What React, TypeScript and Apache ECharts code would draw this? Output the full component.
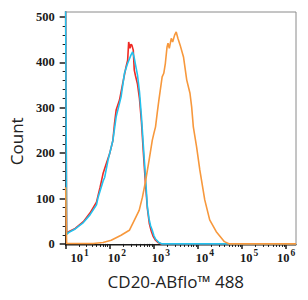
import { useEffect, useRef } from 'react';
import * as echarts from 'echarts';

// x positions are log10(channel) exponents, y values are event counts
const redExp = [1.0, 1.022, 1.067, 1.217, 1.402, 1.551, 1.699, 1.781, 1.848, 1.922, 1.998, 2.071, 2.109, 2.145, 2.221, 2.295, 2.369, 2.406, 2.429, 2.458, 2.48, 2.502, 2.533, 2.556, 2.585, 2.629, 2.674, 2.719, 2.763, 2.808, 2.853, 2.897, 2.942, 2.987, 3.031, 3.098, 3.165, 6.223];
const redCount = [520, 23, 27, 34, 49, 68, 92, 125, 155, 177, 199, 228, 266, 295, 317, 354, 390, 405, 445, 431, 440, 438, 427, 383, 370, 352, 320, 268, 200, 135, 78, 45, 28, 16, 9, 3, 0, 0];

const cyanExp = [1.0, 1.022, 1.067, 1.217, 1.402, 1.551, 1.699, 1.737, 1.848, 1.886, 1.96, 2.071, 2.145, 2.257, 2.333, 2.406, 2.48, 2.518, 2.551, 2.578, 2.629, 2.674, 2.719, 2.763, 2.815, 2.853, 2.891, 2.926, 2.964, 3.002, 3.038, 3.114, 3.188, 6.223];
const cyanCount = [520, 21, 25, 33, 47, 64, 86, 103, 138, 147, 184, 228, 280, 324, 376, 398, 416, 423, 412, 398, 372, 335, 280, 215, 140, 82, 55, 40, 30, 18, 11, 3, 0, 0];

const orangeExp = [1.0, 1.022, 1.625, 1.848, 2.033, 2.257, 2.444, 2.556, 2.667, 2.741, 2.815, 2.891, 2.964, 3.002, 3.038, 3.076, 3.114, 3.188, 3.225, 3.261, 3.299, 3.321, 3.35, 3.395, 3.426, 3.471, 3.507, 3.545, 3.596, 3.672, 3.746, 3.819, 3.857, 3.895, 3.969, 4.042, 4.154, 4.266, 4.415, 4.6, 4.712, 6.223];
const orangeCount = [125, 1, 1, 3, 8, 19, 30, 52, 74, 103, 140, 184, 228, 244, 258, 288, 317, 368, 376, 398, 434, 442, 431, 453, 445, 460, 467, 453, 438, 412, 361, 332, 302, 258, 214, 163, 97, 53, 27, 5, 0, 0];

const xDecades = [10, 100, 1000, 10000, 100000, 1000000];
const xLabelShift = [28, 14, 14, 14, 14, 0];
const xMinorSteps = [2, 3, 4, 5, 6, 7, 8, 9];
const yMajor = [0, 100, 200, 300, 400, 500];
const yMinor = [20, 40, 60, 80, 120, 140, 160, 180, 220, 240, 260, 280, 320, 340, 360, 380, 420, 440, 460, 480];

const X_MIN = 10;
const X_MAX_EXP = 6.223;
const Y_MIN = -3.5;
const Y_MAX = 511;

export default function App() {
  const ref = useRef<HTMLDivElement>(null);
  useEffect(() => {
    const chart = echarts.init(ref.current!, null, { renderer: 'svg' });
    const toXY = (exps: number[], counts: number[]) => exps.map((e, i) => [Math.pow(10, e), counts[i]]);
    const xMax = Math.pow(10, X_MAX_EXP);
    const xMinor: number[] = [];
    xDecades.forEach((d) => xMinorSteps.forEach((s) => { if (d * s < xMax) xMinor.push(d * s); }));
    const serif = '"Liberation Serif", "Times New Roman", serif';
    const sans = '"Open Sans", "Noto Sans", sans-serif';
    const ink = '#1a1a1a';
    chart.setOption({
      animation: false,
      backgroundColor: '#ffffff',
      grid: { left: 62, right: 12, top: 12, bottom: 54.5, show: true, borderColor: '#8a8a8a', borderWidth: 1, backgroundColor: 'transparent' },
      xAxis: [
        {
          type: 'log', logBase: 10, min: X_MIN, max: xMax, position: 'bottom',
          name: 'CD20-ABflo™ 488', nameLocation: 'middle', nameGap: 27,
          nameTextStyle: { fontFamily: sans, fontSize: 17, color: '#222', padding: [0, 10, 0, 0] },
          axisLine: { show: true, lineStyle: { color: ink, width: 1 } },
          axisTick: { show: true, inside: false, length: 5, customValues: xDecades, lineStyle: { color: ink, width: 1.5 } },
          axisLabel: {
            customValues: xDecades, margin: 5,
            formatter: (v: number) => {
              const n = Math.round(Math.log10(v));
              const i = xDecades.indexOf(Math.pow(10, n));
              const sp = xLabelShift[i] === 28 ? '{sp2| }' : xLabelShift[i] === 14 ? '{sp1| }' : '';
              return sp + '{b|10}{s|' + n + '}';
            },
            rich: {
              sp1: { width: 14 },
              sp2: { width: 28 },
              b: { fontFamily: serif, fontSize: 12.5, fontWeight: 'bold', color: ink, verticalAlign: 'bottom', lineHeight: 14 },
              s: { fontFamily: serif, fontSize: 9.5, fontWeight: 'bold', color: ink, verticalAlign: 'bottom', lineHeight: 9, padding: [0, 0, 7, 1] },
            },
          },
          splitLine: { show: false },
        },
        {
          type: 'log', logBase: 10, min: X_MIN, max: xMax, position: 'bottom',
          axisLine: { show: false }, axisLabel: { show: false }, splitLine: { show: false },
          axisTick: { show: true, inside: false, length: 3, customValues: xMinor, lineStyle: { color: ink, width: 1 } },
        },
      ],
      yAxis: [
        {
          type: 'value', min: Y_MIN, max: Y_MAX, position: 'left',
          name: 'Count', nameLocation: 'middle', nameGap: 39,
          nameTextStyle: { fontFamily: sans, fontSize: 17, color: '#222', padding: [0, 25, 0, 0] },
          axisLine: { show: true, lineStyle: { color: ink, width: 1 } },
          axisTick: { show: true, inside: false, length: 6, customValues: yMajor, lineStyle: { color: ink, width: 1.5 } },
          axisLabel: { customValues: yMajor, margin: 11, fontFamily: serif, fontSize: 12.5, fontWeight: 'bold', color: ink },
          splitLine: { show: false },
        },
        {
          type: 'value', min: Y_MIN, max: Y_MAX, position: 'left', offset: 0,
          axisLine: { show: false }, axisLabel: { show: false }, splitLine: { show: false },
          axisTick: { show: true, inside: false, length: 3, customValues: yMinor, lineStyle: { color: ink, width: 1 } },
        },
      ],
      series: [
        { type: 'line', data: toXY(redExp, redCount), symbol: 'none', clip: true, lineStyle: { color: '#ee2a24', width: 1.6 }, z: 2 },
        { type: 'line', data: toXY(cyanExp, cyanCount), symbol: 'none', clip: true, lineStyle: { color: '#22c2ee', width: 1.6 }, z: 3 },
        { type: 'line', data: toXY(orangeExp, orangeCount), symbol: 'none', clip: true, lineStyle: { color: '#f7983c', width: 1.6 }, z: 4 },
      ],
    });
    return () => chart.dispose();
  }, []);
  return <div ref={ref} style={{ position: 'fixed', left: 0, top: 0, width: 308, height: 300, background: '#fff' }} />;
}
